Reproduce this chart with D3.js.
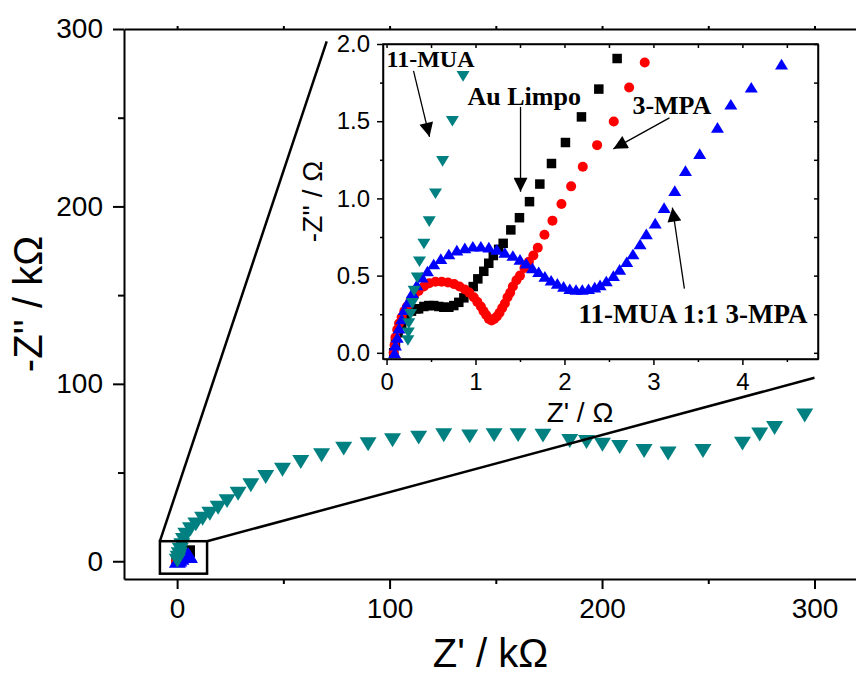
<!DOCTYPE html>
<html>
<head>
<meta charset="utf-8">
<script src="https://cdn.jsdelivr.net/npm/d3@7"></script>
<style>
  html, body { margin: 0; padding: 0; background: #fff; }
  svg { display: block; }
  .tick text { font-family: "Liberation Sans", Arial, sans-serif; fill: #000; }
  .lbl { font-family: "Liberation Serif", "Times New Roman", serif; font-weight: bold; fill: #000; }
  .ttl { font-family: "Liberation Sans", Arial, sans-serif; fill: #000; }
</style>
</head>
<body>
<svg id="chart" width="856" height="676"></svg>
<script>
// ---- Main Nyquist plot (kΩ) ----
const mainMUA = [[0.1,0.3],[0.5,2],[1,4],[1.5,6.5],[2.2,9],[3,12],[4.1,15],[6.3,18],[8.8,20.8],[12,24],[15.4,26.8],[19.3,30.2],[23.5,33.9],[28.7,38.1],[34.7,42.8],[41.7,47.5],[49.6,51.6],[58.2,55.9],[68,59.7],[78.4,63.5],[89.9,65.9],[101.4,68.2],[113.7,69.7],[125.5,71],[137.7,70.4],[149.2,71.1],[160.5,71.1],[172.2,70.8],[184.8,67.8],[192.7,67.2],[200.2,65.7],[208.3,64.4],[219.8,62.1],[231.1,60.7],[247.5,62.1],[266.1,66.3],[274.2,71.4],[281.2,75.1],[295.4,82.2]];
const mainAu = [[0.1,0.1],[1,1],[2.5,2.5],[4,4],[5.6,5.6]];
const mainMPA = [[0,0],[0.5,0.5],[1.2,1.2],[2,1.8],[3,2]];
const mainMix = [[0.1,0.2],[0.8,1],[1.8,2],[3,3],[4.2,3.8],[5.2,3.9],[5.8,3]];

// ---- Inset, high-frequency region (Ω) ----
const insetAu = [[0.08,0.0],[0.10,0.06],[0.13,0.13],[0.17,0.19],[0.22,0.24],[0.28,0.27],[0.33,0.285],[0.36,0.285],[0.42,0.30],[0.475,0.306],[0.53,0.306],[0.588,0.30],[0.644,0.295],[0.70,0.295],[0.756,0.306],[0.812,0.327],[0.869,0.356],[0.925,0.392],[0.974,0.429],[1.026,0.479],[1.093,0.528],[1.149,0.58],[1.20,0.63],[1.26,0.67],[1.311,0.709],[1.397,0.796],[1.494,0.875],[1.607,0.979],[1.723,1.093],[1.854,1.226],[2.011,1.362],[2.191,1.528],[2.386,1.708],[2.592,1.906]];
const insetMPA = [[0.08,0.0],[0.09,0.05],[0.10,0.10],[0.12,0.15],[0.14,0.19],[0.17,0.23],[0.20,0.27],[0.23,0.30],[0.27,0.34],[0.31,0.37],[0.36,0.40],[0.42,0.43],[0.48,0.45],[0.55,0.46],[0.62,0.46],[0.69,0.455],[0.76,0.445],[0.82,0.43],[0.88,0.41],[0.93,0.39],[0.98,0.36],[1.02,0.33],[1.06,0.30],[1.09,0.27],[1.12,0.245],[1.15,0.22],[1.18,0.21],[1.21,0.22],[1.24,0.235],[1.27,0.26],[1.30,0.29],[1.33,0.32],[1.36,0.36],[1.39,0.39],[1.42,0.43],[1.46,0.47],[1.50,0.50],[1.55,0.55],[1.60,0.59],[1.65,0.63],[1.70,0.68],[1.775,0.765],[1.865,0.856],[1.966,0.964],[2.075,1.078],[2.206,1.205],[2.367,1.345],[2.554,1.498],[2.727,1.718],[2.902,1.88]];
const insetMix = [[0.09,0.0],[0.10,0.05],[0.12,0.10],[0.14,0.16],[0.17,0.22],[0.20,0.28],[0.24,0.33],[0.29,0.39],[0.34,0.44],[0.40,0.49],[0.46,0.53],[0.53,0.575],[0.61,0.61],[0.70,0.64],[0.79,0.665],[0.88,0.68],[0.97,0.69],[1.06,0.69],[1.15,0.685],[1.24,0.67],[1.33,0.65],[1.42,0.63],[1.50,0.605],[1.57,0.58],[1.64,0.55],[1.71,0.525],[1.78,0.495],[1.85,0.47],[1.92,0.45],[1.99,0.43],[2.06,0.415],[2.13,0.41],[2.20,0.41],[2.27,0.415],[2.34,0.425],[2.40,0.44],[2.47,0.465],[2.55,0.50],[2.62,0.54],[2.70,0.59],[2.77,0.64],[2.85,0.705],[2.92,0.77],[3.02,0.84],[3.12,0.94],[3.24,1.05],[3.36,1.18],[3.52,1.29],[3.72,1.46],[3.87,1.61],[4.10,1.72],[4.44,1.87]];
const insetMUA = [[0.24,0.08],[0.245,0.13],[0.25,0.19],[0.27,0.25],[0.29,0.32],[0.31,0.40],[0.345,0.485],[0.37,0.59],[0.42,0.705],[0.48,0.85],[0.55,1.03],[0.63,1.24],[0.74,1.50],[0.86,1.79]];

// Axis ticks
const mainXTicks = [0, 100, 200, 300];
const mainXMinor = [50, 150, 250];
const mainYTicks = [0, 100, 200, 300];
const mainYMinor = [50, 150, 250];
const insetXTicks = [0, 1, 2, 3, 4];
const insetXMinor = [0.5, 1.5, 2.5, 3.5, 4.5];
const insetYTicks = [0, 0.5, 1.0, 1.5, 2.0];
const insetYMinor = [0.25, 0.75, 1.25, 1.75];

// Magnifier box on the main plot and its guide lines (kΩ)
const zoomBox = { x0: -8.1, x1: 14.1, y0: -7, y1: 11.3 };
const guideEnds = [[70.4, 293], [300, 103.4]];

// Annotations inside the inset (Ω): text, anchor, arrow start → tip
const notes = [
  { text: "11-MUA", size: 24, at: [0.0, 1.852], from: [0.303, 1.826], to: [0.483, 1.399] },
  { text: "Au Limpo", size: 26, at: [0.91, 1.606], from: [1.506, 1.593], to: [1.506, 1.043] },
  { text: "3-MPA", size: 26, at: [2.764, 1.548], from: [3.18, 1.522], to: [2.55, 1.321] },
  { text: "11-MUA 1:1 3-MPA", size: 27, at: [2.157, 0.196], from: [3.348, 0.416], to: [3.213, 0.94] }
];

const TEAL = "#008080", RED = "#ff0000", BLUE = "#0000ff", BLACK = "#000000";

const svg = d3.select("#chart");

// ---------- main axes ----------
const x = d3.scaleLinear().domain([-25, 320]).range([124, 857]);
const y = d3.scaleLinear().domain([-10, 300]).range([579, 29]);

function styleAxis(g, w) {
  g.select(".domain").attr("stroke", "#000").attr("stroke-width", w);
  g.selectAll(".tick line").attr("stroke", "#000").attr("stroke-width", w);
}

const gx = svg.append("g").attr("transform", `translate(0,${y.range()[0]})`)
  .call(d3.axisBottom(x).tickValues(mainXTicks).tickSize(10).tickSizeOuter(0).tickPadding(9));
styleAxis(gx, 2);
gx.selectAll("text").attr("font-size", 28);
const gxm = svg.append("g").attr("transform", `translate(0,${y.range()[0]})`)
  .call(d3.axisBottom(x).tickValues(mainXMinor).tickSize(5).tickSizeOuter(0).tickFormat(""));
styleAxis(gxm, 2); gxm.select(".domain").remove();

const gy = svg.append("g").attr("transform", `translate(${x.range()[0]},0)`)
  .call(d3.axisLeft(y).tickValues(mainYTicks).tickSize(11).tickSizeOuter(0).tickPadding(10));
styleAxis(gy, 2);
gy.selectAll("text").attr("font-size", 28);
const gym = svg.append("g").attr("transform", `translate(${x.range()[0]},0)`)
  .call(d3.axisLeft(y).tickValues(mainYMinor).tickSize(6).tickSizeOuter(0).tickFormat(""));
styleAxis(gym, 2); gym.select(".domain").remove();

// top frame line with small ticks
const gt = svg.append("g").attr("transform", `translate(0,${y.range()[1]})`)
  .call(d3.axisTop(x).tickValues(mainXTicks.concat(mainXMinor)).tickSize(3).tickSizeOuter(0).tickFormat(""));
styleAxis(gt, 2);

// axis titles
svg.append("text").attr("class", "ttl").attr("font-size", 40)
  .attr("text-anchor", "middle")
  .attr("x", (x.range()[0] + x.range()[1]) / 2).attr("y", 667)
  .text("Z' / kΩ");
svg.append("text").attr("class", "ttl").attr("font-size", 40)
  .attr("text-anchor", "middle")
  .attr("transform", `translate(42,${(y.range()[0] + y.range()[1]) / 2}) rotate(-90)`)
  .text("-Z'' / kΩ");

// ---------- marker shapes ----------
function downTri(w, h) { return `M${-w/2},${-h/2}L${w/2},${-h/2}L0,${h/2}Z`; }
function upTri(w, h) { return `M${-w/2},${h/2}L${w/2},${h/2}L0,${-h/2}Z`; }
function square(s) { return `M${-s/2},${-s/2}h${s}v${s}h${-s}Z`; }

function drawSeries(g, data, sx, sy, kind, color, size) {
  const sel = g.append("g").selectAll("path").data(data).join("path")
    .attr("transform", d => `translate(${sx(d[0])},${sy(d[1])})`)
    .attr("fill", color);
  if (kind === "down") sel.attr("d", downTri(size, size * 0.82));
  else if (kind === "up") sel.attr("d", upTri(size, size * 0.82));
  else if (kind === "square") sel.attr("d", square(size));
  else sel.attr("d", d3.symbol(d3.symbolCircle, Math.PI * (size / 2) ** 2)());
}

const mainG = svg.append("g");
drawSeries(mainG, mainAu, x, y, "square", BLACK, 12);
drawSeries(mainG, mainMPA, x, y, "circle", RED, 12);
drawSeries(mainG, mainMix, x, y, "up", BLUE, 17);
drawSeries(mainG, mainMUA, x, y, "down", TEAL, 17);

// magnifier box + guide lines
svg.append("rect")
  .attr("x", x(zoomBox.x0)).attr("y", y(zoomBox.y1))
  .attr("width", x(zoomBox.x1) - x(zoomBox.x0)).attr("height", y(zoomBox.y0) - y(zoomBox.y1))
  .attr("fill", "none").attr("stroke", "#000").attr("stroke-width", 2.5);
svg.append("line")
  .attr("x1", x(zoomBox.x0)).attr("y1", y(zoomBox.y1))
  .attr("x2", x(guideEnds[0][0])).attr("y2", y(guideEnds[0][1]))
  .attr("stroke", "#000").attr("stroke-width", 2.5);
svg.append("line")
  .attr("x1", x(zoomBox.x1)).attr("y1", y(zoomBox.y1))
  .attr("x2", x(guideEnds[1][0])).attr("y2", y(guideEnds[1][1]))
  .attr("stroke", "#000").attr("stroke-width", 2.5);

// ---------- inset ----------
const ix = d3.scaleLinear().domain([-0.04, 4.85]).range([383, 818]);
const iy = d3.scaleLinear().domain([-0.04, 2.0]).range([359, 44]);
const inset = svg.append("g");
inset.append("rect")
  .attr("x", ix.range()[0]).attr("y", iy.range()[1])
  .attr("width", ix.range()[1] - ix.range()[0]).attr("height", iy.range()[0] - iy.range()[1])
  .attr("fill", "#fff");

const ibx = inset.append("g").attr("transform", `translate(0,${iy.range()[0]})`)
  .call(d3.axisBottom(ix).tickValues(insetXTicks).tickSize(6).tickSizeOuter(0).tickPadding(8).tickFormat(d3.format("d")));
styleAxis(ibx, 1.5); ibx.selectAll("text").attr("font-size", 24);
const ibxm = inset.append("g").attr("transform", `translate(0,${iy.range()[0]})`)
  .call(d3.axisBottom(ix).tickValues(insetXMinor.filter(v => v < 4.85)).tickSize(3).tickSizeOuter(0).tickFormat(""));
styleAxis(ibxm, 1.5); ibxm.select(".domain").remove();

const ily = inset.append("g").attr("transform", `translate(${ix.range()[0]},0)`)
  .call(d3.axisLeft(iy).tickValues(insetYTicks).tickSize(6).tickSizeOuter(0).tickPadding(7).tickFormat(d3.format(".1f")));
styleAxis(ily, 1.5); ily.selectAll("text").attr("font-size", 24);
const ilym = inset.append("g").attr("transform", `translate(${ix.range()[0]},0)`)
  .call(d3.axisLeft(iy).tickValues(insetYMinor).tickSize(3).tickSizeOuter(0).tickFormat(""));
styleAxis(ilym, 1.5); ilym.select(".domain").remove();

// mirrored top / right frame with inward ticks
const itx = inset.append("g").attr("transform", `translate(0,${iy.range()[1]})`)
  .call(d3.axisTop(ix).tickValues(insetXTicks.concat(insetXMinor.filter(v => v < 4.85))).tickSize(-4).tickSizeOuter(0).tickFormat(""));
styleAxis(itx, 1.5);
const iry = inset.append("g").attr("transform", `translate(${ix.range()[1]},0)`)
  .call(d3.axisRight(iy).tickValues(insetYTicks.concat(insetYMinor)).tickSize(-4).tickSizeOuter(0).tickFormat(""));
styleAxis(iry, 1.5);

inset.append("text").attr("class", "ttl").attr("font-size", 28)
  .attr("text-anchor", "middle").attr("x", 580).attr("y", 422)
  .text("Z' / Ω");
inset.append("text").attr("class", "ttl").attr("font-size", 28)
  .attr("text-anchor", "middle")
  .attr("transform", `translate(322,${(iy.range()[0] + iy.range()[1]) / 2}) rotate(-90)`)
  .text("-Z'' / Ω");

drawSeries(inset, insetAu, ix, iy, "square", BLACK, 9.5);
drawSeries(inset, insetMPA, ix, iy, "circle", RED, 10);
drawSeries(inset, insetMix, ix, iy, "up", BLUE, 13);
drawSeries(inset, insetMUA, ix, iy, "down", TEAL, 13);

// annotations with arrows
const defs = svg.append("defs");
defs.append("marker").attr("id", "head")
  .attr("viewBox", "0 0 10 10").attr("refX", 10).attr("refY", 5)
  .attr("markerUnits", "userSpaceOnUse").attr("markerWidth", 17).attr("markerHeight", 14)
  .attr("orient", "auto")
  .append("path").attr("d", "M0,0L10,5L0,10Z").attr("fill", "#000");

notes.forEach(n => {
  inset.append("line")
    .attr("x1", ix(n.from[0])).attr("y1", iy(n.from[1]))
    .attr("x2", ix(n.to[0])).attr("y2", iy(n.to[1]))
    .attr("stroke", "#000").attr("stroke-width", 1.3)
    .attr("marker-end", "url(#head)");
  inset.append("text").attr("class", "lbl").attr("font-size", n.size)
    .attr("x", ix(n.at[0])).attr("y", iy(n.at[1]))
    .text(n.text);
});

// inset frame on top
inset.append("rect")
  .attr("x", ix.range()[0]).attr("y", iy.range()[1])
  .attr("width", ix.range()[1] - ix.range()[0]).attr("height", iy.range()[0] - iy.range()[1])
  .attr("fill", "none").attr("stroke", "#000").attr("stroke-width", 1.5);
</script>
</body>
</html>
